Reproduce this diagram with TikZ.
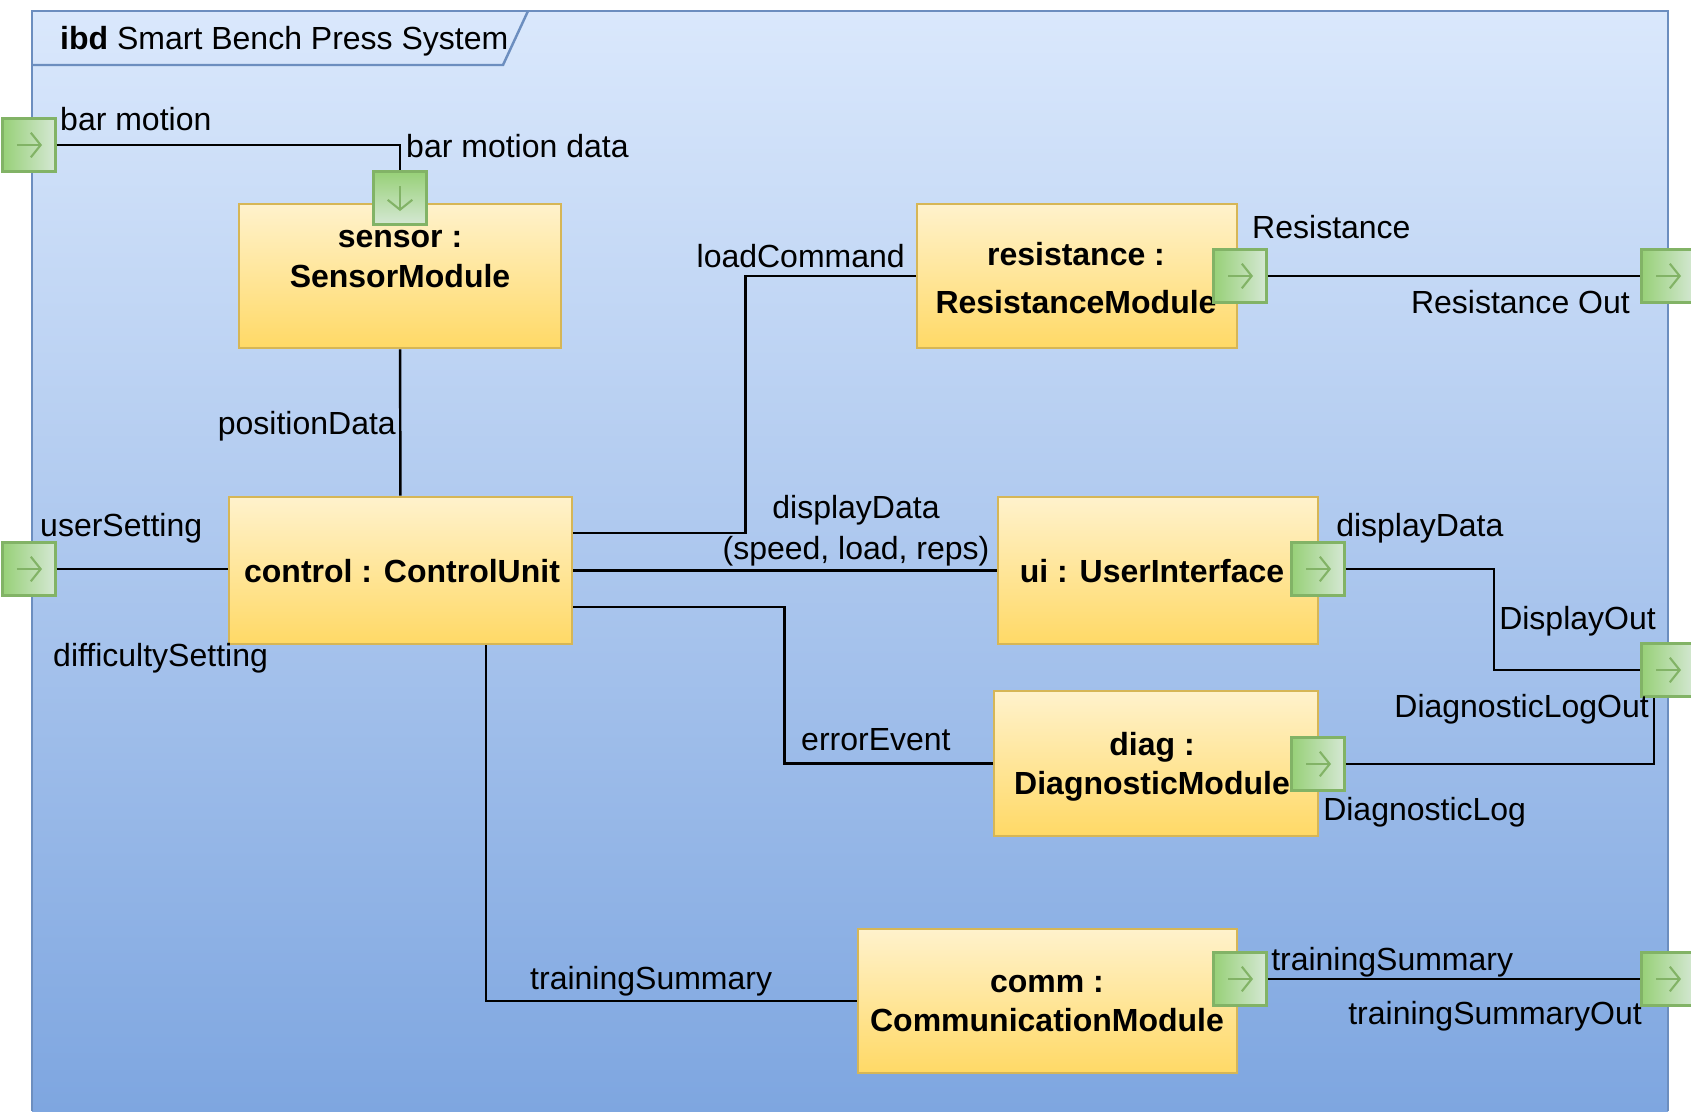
\documentclass[tikz,border=0pt]{standalone}
\usepackage{fontspec}
\setmainfont{Liberation Sans}
\usetikzlibrary{arrows.meta}
\definecolor{framefill}{HTML}{DAE8FC}
\definecolor{framedeep}{HTML}{7EA6E0}
\definecolor{frameline}{HTML}{6C8EBF}
\definecolor{blocktop}{HTML}{FFF2CC}
\definecolor{blockbot}{HTML}{FFD966}
\definecolor{blockline}{HTML}{D6B656}
\definecolor{portdark}{HTML}{97D077}
\definecolor{portlight}{HTML}{D5E8D4}
\definecolor{portline}{HTML}{82B366}

\begin{document}
\begin{tikzpicture}
[x=0.01cm,y=-0.01cm,line width=0.7pt,%
  every node/.style={font=\fontsize{9.1}{11.2}\selectfont},
  block/.style={draw=blockline,top color=blocktop,bottom color=blockbot,minimum height=1.44cm},
  boxname/.style={align=center,inner sep=0pt,yshift=-0.03cm,font=\fontsize{9.1}{11.2}\selectfont\bfseries},
  lbl/.style={inner sep=0pt,yshift=-0.03cm},
  port/.style={draw=portline,left color=portdark,right color=portlight,minimum size=0.53cm,inner sep=0pt,
    path picture={\draw[portline,line width=0.6pt,-{Straight Barb[length=2.8pt,width=7pt]}]
      ([xshift=-0.12cm]path picture bounding box.center) -- ([xshift=0.13cm]path picture bounding box.center);}},
  portdown/.style={port,top color=portdark,bottom color=portlight,
    path picture={\draw[portline,line width=0.6pt,-{Straight Barb[length=2.8pt,width=7pt]}]
      ([yshift=0.12cm]path picture bounding box.center) -- ([yshift=-0.13cm]path picture bounding box.center);}}]
\useasboundingbox (0,0) rectangle (1691,1111);
\clip (0,0) rectangle (1691,1111);
\shade[top color=framefill,bottom color=framedeep] (32,11) rectangle (1668,1111);
\draw[frameline] (32,1111) -- (32,11) -- (1668,11) -- (1668,1111);
\draw[frameline] (32,65) -- (503,65) -- (528,11);
\node[lbl,anchor=west] (title) at (59,38) {\textbf{ibd} Smart Bench Press System};

\node[block,minimum width=3.22cm] (sensor) at (400,276) {};
\node[block,minimum width=3.43cm,minimum height=1.47cm] (control) at (400.5,570.5) {};
\node[block,minimum width=3.20cm] (resistance) at (1077,276) {};
\node[block,minimum width=3.20cm,minimum height=1.47cm] (ui) at (1158,570.5) {};
\node[block,minimum width=3.24cm,minimum height=1.45cm] (diag) at (1156,763.5) {};
\node[block,minimum width=3.79cm] (comm) at (1047.5,1001) {};

\node[boxname] (sensorName) at (400,256) {sensor :\\SensorModule};
\node[boxname] (controlName) at (402,568) {control : ControlUnit};
\node[boxname] (resistanceName) at (1076,275) {resistance :\\[2.4pt]ResistanceModule};
\node[boxname] (uiName) at (1152,568) {ui : UserInterface};
\node[boxname] (diagName) at (1152,764) {diag :\\DiagnosticModule};
\node[boxname] (commName) at (1047,1000.5) {comm :\\CommunicationModule};

\node[port] (pBar) at (29,145) {};
\node[portdown] (pSens) at (400,198) {};
\node[port] (pUser) at (29,569) {};
\node[port] (pRes) at (1240,276) {};
\node[port] (pResOut) at (1668,276) {};
\node[port] (pUi) at (1318,569) {};
\node[port] (pDisp) at (1668,670) {};
\node[port] (pDiag) at (1318,764) {};
\node[port] (pComm) at (1240,979) {};
\node[port] (pCommOut) at (1668,979) {};

\draw (pBar) -| (pSens);
\draw (sensor) -- (control);
\draw (pUser) -- (pUser -| control.west);
\draw ([yshift=0.375cm]control.east) -- ++(172,0) |- (resistance);
\draw (control) -- (ui);
\draw ([yshift=-0.365cm]control.east) -- ++(211,0) |- (diag);
\draw ([xshift=0.855cm]control.south) |- (comm);
\draw (pRes) -- (pResOut);
\draw (pUi) -- ++(176,0) |- (pDisp);
\draw (pDiag) -| ([xshift=-0.14cm]pDisp.south);
\draw (pComm) -- (pCommOut);

\node[lbl,anchor=west] (barLbl) at (59,116) {bar motion};
\node[lbl,anchor=west] (barDataLbl) at (405,143) {bar motion data};
\node[lbl,anchor=east] (posLbl) at (397,423) {positionData};
\node[lbl,anchor=west] (userLbl) at (39,525) {userSetting};
\node[lbl,anchor=west] (diffLbl) at (52,655) {difficultySetting};
\node[lbl,anchor=east] (loadLbl) at (906,253) {loadCommand};
\node[lbl,align=center,font=\fontsize{9.1}{11.6}\selectfont] (dispLbl) at (856,528) {displayData\\(speed, load, reps)};
\node[lbl,anchor=west] (errLbl) at (800,737) {errorEvent};
\node[lbl,anchor=west] (sumLbl) at (529,978) {trainingSummary};
\node[lbl,anchor=west] (resLbl) at (1251,224) {Resistance};
\node[lbl,anchor=east] (resOutLbl) at (1631,299) {Resistance Out};
\node[lbl,anchor=west] (uiLbl) at (1335,525) {displayData};
\node[lbl,anchor=west] (dispOutLbl) at (1498,618) {DisplayOut};
\node[lbl,anchor=east] (logOutLbl) at (1650,706) {DiagnosticLogOut};
\node[lbl,anchor=west] (logLbl) at (1322,809) {DiagnosticLog};
\node[lbl,anchor=west] (commLbl) at (1270,959) {trainingSummary};
\node[lbl,anchor=east] (commOutLbl) at (1643,1013) {trainingSummaryOut};
\end{tikzpicture}
\end{document}
